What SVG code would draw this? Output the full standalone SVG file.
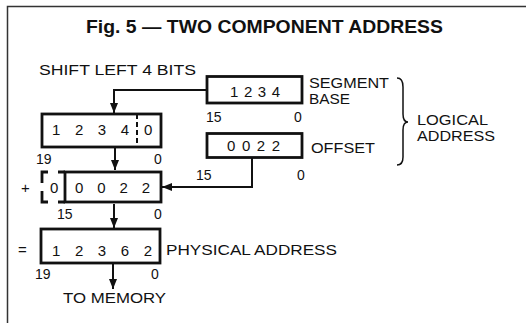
<svg xmlns="http://www.w3.org/2000/svg" width="526" height="323" viewBox="0 0 526 323">
<defs>
<style>
text{font-family:"Liberation Sans",Arial,sans-serif;fill:#111;}
.t{font-size:14px;}
.d{font-size:15px;}
.b{fill:none;stroke:#111;stroke-width:2.8;}
.c{fill:none;stroke:#111;stroke-width:2;}
.dash{fill:none;stroke:#111;stroke-width:2.8;}
</style>
<marker id="ah" viewBox="0 0 10 10" refX="10" refY="5" markerWidth="5" markerHeight="5" markerUnits="strokeWidth" orient="auto">
<path d="M0,1 L10,5 L0,9 Z" fill="#111"/>
</marker>
</defs>
<rect width="526" height="323" fill="#fff"/>
<g id="frame">
<path d="M7.5,323 V6.5 H526" fill="none" stroke="#333" stroke-width="1.5"/>
</g>
<g id="title">
<text x="86" y="33" font-size="18.5" font-weight="bold" textLength="357" lengthAdjust="spacingAndGlyphs">Fig. 5 — TWO COMPONENT ADDRESS</text>
</g>
<g id="connectors">
<path class="c" d="M207,90 H114 V113" marker-end="url(#ah)"/>
<path class="c" d="M115,148 V170" marker-end="url(#ah)"/>
<path class="c" d="M252,158 V187 H162" marker-end="url(#ah)"/>
<path class="c" d="M114,204 V228" marker-end="url(#ah)"/>
<path class="c" d="M113,264 V289" marker-end="url(#ah)"/>
</g>
<g id="shift-label">
<text class="t" x="39" y="75" textLength="157" lengthAdjust="spacingAndGlyphs">SHIFT LEFT 4 BITS</text>
</g>
<g id="segment-base">
<rect class="b" x="207" y="76.5" width="95" height="26.5"/>
<text class="d" x="230" y="97" textLength="50" lengthAdjust="spacing">1 2 3 4</text>
<text class="t" x="206" y="122">15</text>
<text class="t" x="294" y="122">0</text>
<text class="t" x="309" y="88" textLength="80" lengthAdjust="spacingAndGlyphs">SEGMENT</text>
<text class="t" x="309" y="104" textLength="41" lengthAdjust="spacingAndGlyphs">BASE</text>
</g>
<g id="offset">
<rect class="b" x="207" y="133.5" width="95" height="24"/>
<text class="d" x="227" y="151" textLength="53" lengthAdjust="spacing">0 0 2 2</text>
<text class="t" x="196" y="180">15</text>
<text class="t" x="297" y="180">0</text>
<text class="t" x="311" y="153" textLength="64" lengthAdjust="spacingAndGlyphs">OFFSET</text>
</g>
<g id="logical-address">
<path d="M397,78 Q403,78 403,87 L403,114 Q403,122 408,122 Q403,122 403,130 L403,157 Q403,165 397,165" fill="none" stroke="#111" stroke-width="1.5"/>
<text class="t" x="417" y="125" textLength="71" lengthAdjust="spacingAndGlyphs">LOGICAL</text>
<text class="t" x="417" y="141" textLength="78" lengthAdjust="spacingAndGlyphs">ADDRESS</text>
</g>
<g id="shifted-segment">
<rect class="b" x="42" y="114" width="119" height="33"/>
<line x1="137" y1="114" x2="137" y2="147" stroke="#111" stroke-width="2" stroke-dasharray="5,3"/>
<text class="d" x="52" y="135" textLength="77" lengthAdjust="spacing">1 2 3 4</text>
<text class="d" x="144" y="135">0</text>
<text class="t" x="36" y="164">19</text>
<text class="t" x="154" y="164">0</text>
</g>
<g id="padded-offset">
<text class="d" x="21" y="193">+</text>
<path class="dash" d="M48,172 H42 V183 M42,191 V202 H48 M58,172 H65 M58,202 H65"/>
<rect class="b" x="65" y="172" width="96" height="30"/>
<text class="d" x="50" y="193">0</text>
<text class="d" x="75" y="193" textLength="75" lengthAdjust="spacing">0 0 2 2</text>
<text class="t" x="57" y="219">15</text>
<text class="t" x="154" y="219">0</text>
</g>
<g id="physical-address">
<text class="d" x="18" y="255">=</text>
<rect class="b" x="41" y="229" width="119" height="34"/>
<text class="d" x="52" y="256" textLength="100" lengthAdjust="spacing">1 2 3 6 2</text>
<text class="t" x="35" y="279">19</text>
<text class="t" x="151" y="279">0</text>
<text class="t" x="166" y="255" textLength="171" lengthAdjust="spacingAndGlyphs">PHYSICAL ADDRESS</text>
<text class="t" x="63" y="303" textLength="103" lengthAdjust="spacingAndGlyphs">TO MEMORY</text>
</g>
</svg>
